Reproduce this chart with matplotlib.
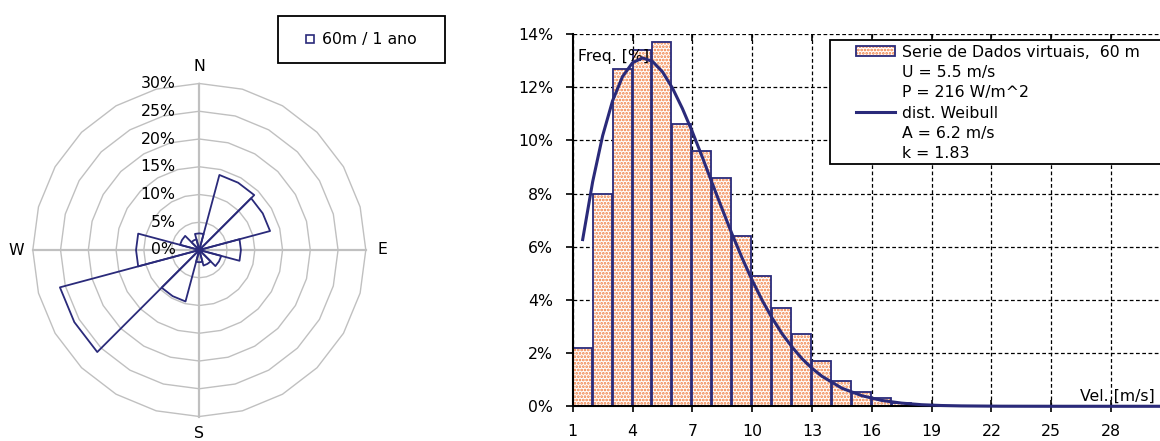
import numpy as np
import matplotlib.pyplot as plt
from matplotlib.lines import Line2D
from matplotlib.patches import Rectangle, Patch

plt.rcParams['font.family'] = 'DejaVu Sans'
plt.rcParams['font.size'] = 11.3
plt.rcParams['hatch.linewidth'] = 1.3

navy = '#2a2a7a'
orange = '#f07a3c'
grey = '#c0c0c0'

# wind rose: 12 sectors of 30 deg, frequency in %
directions = [0, 30, 60, 90, 120, 150, 180, 210, 240, 270, 300, 330]
dir_freq = [3.0, 14.0, 13.2, 7.5, 4.1, 2.9, 2.2, 9.6, 26.0, 11.4, 3.6, 2.0]
rose_rings = [0, 5, 10, 15, 20, 25, 30]
compass = ['N', 'E', 'S', 'W']

# wind speed histogram (1 m/s bins), freq in %
bins = list(range(1, 20))
bin_freq = [2.2, 8.0, 12.7, 13.4, 13.7, 10.6, 9.6, 8.6, 6.4, 4.9, 3.7, 2.7,
            1.7, 0.97, 0.55, 0.32, 0.13, 0.06, 0.03]

# Weibull curve (A = 6.2 m/s, k = 1.83), read at these speeds, in %
wb_speed = [1, 1.5, 2, 2.5, 3, 3.5, 4, 4.5, 5, 5.5, 6, 6.5, 7, 7.5, 8, 8.5,
            9, 9.5, 10, 10.5, 11, 11.5, 12, 12.5, 13, 14, 15, 16, 17, 18,
            19, 20, 22, 25, 28, 31]
wb_freq = [6.27, 8.44, 10.17, 11.49, 12.40, 12.92, 13.10, 12.97, 12.58, 11.97,
           11.20, 10.32, 9.37, 8.38, 7.41, 6.46, 5.57, 4.74, 3.99, 3.32, 2.73,
           2.23, 1.79, 1.43, 1.13, 0.68, 0.40, 0.22, 0.12, 0.06, 0.03, 0.015,
           0.003, 0, 0, 0]

x_ticks = list(range(1, 29, 3))
y_ticks = list(range(0, 15, 2))

W, H = 1160, 441
fig = plt.figure(figsize=(W / 100, H / 100), dpi=100)

# ---- wind rose ----
ax1 = fig.add_axes([32.8 / W, (H - 416.5) / H, 333 / W, 333 / H], projection='polar')
ax1.set_theta_zero_location('N')
ax1.set_theta_direction(-1)
ax1.set_ylim(0, 30)
ax1.axis('off')

ring_theta = np.deg2rad(np.arange(0, 361, 15))
for r in rose_rings[1:]:
    ax1.plot(ring_theta, [r] * len(ring_theta), color=grey, lw=1.0, clip_on=False, zorder=1)
for i, lab in enumerate(compass):
    th = np.deg2rad(90 * i)
    ax1.plot([th, th], [0, 30], color=grey, lw=1.6, clip_on=False, zorder=1)
    ax1.text(th, 33, lab, ha='center', va='center')
for r in rose_rings:
    ax1.annotate(f'{r}%', xy=(0, r), xytext=(-17, 0), textcoords='offset points',
                 ha='right', va='center')
for d, f in zip(directions, dir_freq):
    th = np.deg2rad([d - 15, d - 15, d, d + 15, d + 15])
    ax1.plot(th, [0, f, f, f, 0], color=navy, lw=1.3, clip_on=False, zorder=3)

fig.add_artist(Rectangle((278 / W, 1 - 63 / H), 167 / W, 47 / H, transform=fig.transFigure,
                         facecolor='white', edgecolor='black', lw=1.3, zorder=4))
rose_handle = Line2D([], [], ls='none', marker='s', ms=6, mfc='white', mec=navy, mew=1.2)
fig.legend([rose_handle], ['60m / 1 ano'], loc='upper left',
           bbox_to_anchor=(304 / W, 1 - 32 / H), bbox_transform=fig.transFigure,
           frameon=False, borderpad=0, borderaxespad=0, handlelength=0.8,
           handletextpad=0.36)

# ---- histogram ----
ax2 = fig.add_axes([572.7 / W, (H - 406.3) / H, 598.2 / W, 372.3 / H])
ax2.set_xlim(1, 31)
ax2.set_ylim(0, 14)
ax2.set_axisbelow(True)
ax2.grid(True, color='black', ls=(0, (3, 2)), lw=0.9)

ax2.bar(bins, bin_freq, width=0.95, align='edge', color='white', edgecolor=orange,
        lw=0, hatch='.....')
ax2.bar(bins, bin_freq, width=0.95, align='edge', fill=False, edgecolor=navy, lw=1.3)
curve, = ax2.plot(np.array(wb_speed) + 0.5, wb_freq, color=navy, lw=2.2, clip_on=False,
                  zorder=4)

for s in ['top', 'right']:
    ax2.spines[s].set_visible(False)
for s in ['left', 'bottom']:
    ax2.spines[s].set_linewidth(1.5)

ax2.set_xticks(x_ticks)
ax2.set_xticklabels([str(v) for v in x_ticks])
ax2.set_yticks(y_ticks)
ax2.set_yticklabels([f'{v}%' for v in y_ticks])
ax2.tick_params(axis='x', direction='inout', length=8, width=1.2, pad=9)
ax2.tick_params(axis='y', direction='out', length=5, width=1.2, pad=9)
top = ax2.secondary_xaxis('top')
top.set_xticks(x_ticks)
top.tick_params(direction='in', length=5, width=1.2, labeltop=False)
top.spines['top'].set_visible(False)

ax2.text(0.0094, 0.939, 'Freq. [%]', transform=ax2.transAxes, va='center', zorder=3.5)
ax2.text(0.848, 0.026, 'Vel. [m/s]', transform=ax2.transAxes, va='center', zorder=5)

fig.add_artist(Rectangle((830 / W, 1 - 164.3 / H), 350 / W, 124.3 / H,
                         transform=fig.transFigure, facecolor='white',
                         edgecolor='black', lw=1.3, zorder=4))
bar_handle = (Patch(facecolor='white', edgecolor=orange, lw=0, hatch='.....'),
              Patch(fill=False, edgecolor=navy, lw=1.3))
blank = Line2D([], [], color='none')
fig.legend([bar_handle, blank, blank, curve, blank, blank],
           ['Serie de Dados virtuais,  60 m', 'U = 5.5 m/s', 'P = 216 W/m^2',
            'dist. Weibull', 'A = 6.2 m/s', 'k = 1.83'],
           loc='upper left', bbox_to_anchor=(856 / W, 1 - 45 / H),
           bbox_transform=fig.transFigure, frameon=False, borderpad=0,
           borderaxespad=0, handlelength=2.5, handletextpad=0.4,
           labelspacing=0.33, handleheight=0.6)

fig.savefig('out.png', dpi=100)
